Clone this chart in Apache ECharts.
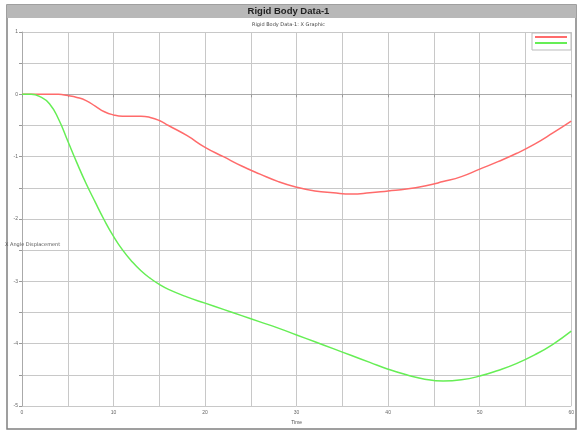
<!DOCTYPE html>
<html><head><meta charset="utf-8">
<script src="https://cdn.jsdelivr.net/npm/echarts@6/dist/echarts.min.js"></script>
<style>html,body{margin:0;padding:0;background:#fff}#c{width:577px;height:431px}</style>
</head><body><div id="c"></div>
<script>
var times = [0,1,2,3,4,5,6,7,8,9,10,11,12,13,14,15,16,18,20,22,24,26,28,30,32,34,36,38,40,42,44,46,48,50,52,54,56,58,60];
var redValues = [0,0,0,0,0,-0.02,-0.05,-0.1,-0.19,-0.28,-0.33,-0.35,-0.35,-0.35,-0.37,-0.42,-0.5,-0.66,-0.85,-1.0,-1.15,-1.28,-1.4,-1.49,-1.55,-1.58,-1.6,-1.58,-1.55,-1.52,-1.47,-1.4,-1.32,-1.2,-1.08,-0.95,-0.8,-0.62,-0.43];
var greenValues = [0,0,-0.04,-0.15,-0.4,-0.75,-1.1,-1.43,-1.73,-2.02,-2.28,-2.5,-2.68,-2.83,-2.95,-3.05,-3.13,-3.25,-3.35,-3.45,-3.55,-3.65,-3.75,-3.86,-3.97,-4.08,-4.19,-4.3,-4.41,-4.5,-4.57,-4.6,-4.58,-4.52,-4.43,-4.32,-4.18,-4.01,-3.8];
var seriesNames = ['Rotation X','Rotation Y'];
var chartTitle = 'Rigid Body Data-1';
var chartSubtitle = 'Rigid Body Data-1: X Graphic';
var xName = 'Time';
var yName = 'X Angle Displacement';

function pairs(v){return times.map(function(t,i){return [t,v[i]];});}
var chart = echarts.init(document.getElementById('c'));
chart.setOption({
  animation:false,
  backgroundColor:'#fff',
  graphic:[
    {type:'rect',shape:{x:7,y:5,width:569,height:424},style:{fill:'#fff',stroke:'#808080',lineWidth:1.5},z:-10},
    {type:'rect',shape:{x:7,y:5,width:569,height:13},style:{fill:'#b8b8b8'},z:-9},
    {type:'text',left:5,top:242,style:{text:yName,fontSize:5,fill:'#555',fontFamily:'DejaVu Sans'},z:10}
  ],
  title:{text:chartTitle,subtext:chartSubtitle,left:'center',top:6,itemGap:6,padding:0,
    textStyle:{fontSize:9.5,fontWeight:'bold',color:'#222',fontFamily:'Liberation Sans',lineHeight:10},
    subtextStyle:{fontSize:5,color:'#444',fontFamily:'DejaVu Sans'}},
  legend:{right:6,top:33,orient:'vertical',itemWidth:32,itemHeight:2,itemGap:4,
    borderColor:'#bbb',borderWidth:1,padding:[3,4,6,3],backgroundColor:'#fff',
    textStyle:{fontSize:4,color:'inherit'},icon:'rect',
    formatter:function(){return '';}},
  grid:{left:22,right:5,top:32,bottom:25},
  xAxis:{type:'value',min:0,max:60,interval:5,name:xName,nameLocation:'middle',nameGap:10,
    nameTextStyle:{fontSize:5,color:'#555'},
    axisLine:{lineStyle:{color:'#aaa'}},axisTick:{show:true,length:3,lineStyle:{color:'#999'}},
    axisLabel:{fontSize:5,color:'#666',margin:4,formatter:function(v){return v%10===0?String(v):'';}},
    splitLine:{show:true,lineStyle:{color:'#c8c8c8',width:1}}},
  yAxis:{type:'value',min:-5,max:1,interval:0.5,
    axisLine:{show:true,lineStyle:{color:'#aaa'}},axisTick:{show:true,length:3,lineStyle:{color:'#999'}},
    axisLabel:{fontSize:5,color:'#666',margin:4,formatter:function(v){return Number.isInteger(v)?String(v):'';}},
    splitLine:{show:true,lineStyle:{color:'#c8c8c8',width:1}}},
  series:[
    {name:seriesNames[0],type:'line',data:pairs(redValues),smooth:true,showSymbol:false,
      lineStyle:{color:'#ff6b6b',width:1.5},itemStyle:{color:'#ff6b6b'}},
    {name:seriesNames[1],type:'line',data:pairs(greenValues),smooth:true,showSymbol:false,
      lineStyle:{color:'#66ee55',width:1.5},itemStyle:{color:'#66ee55'}}
  ]
});
</script></body></html>
